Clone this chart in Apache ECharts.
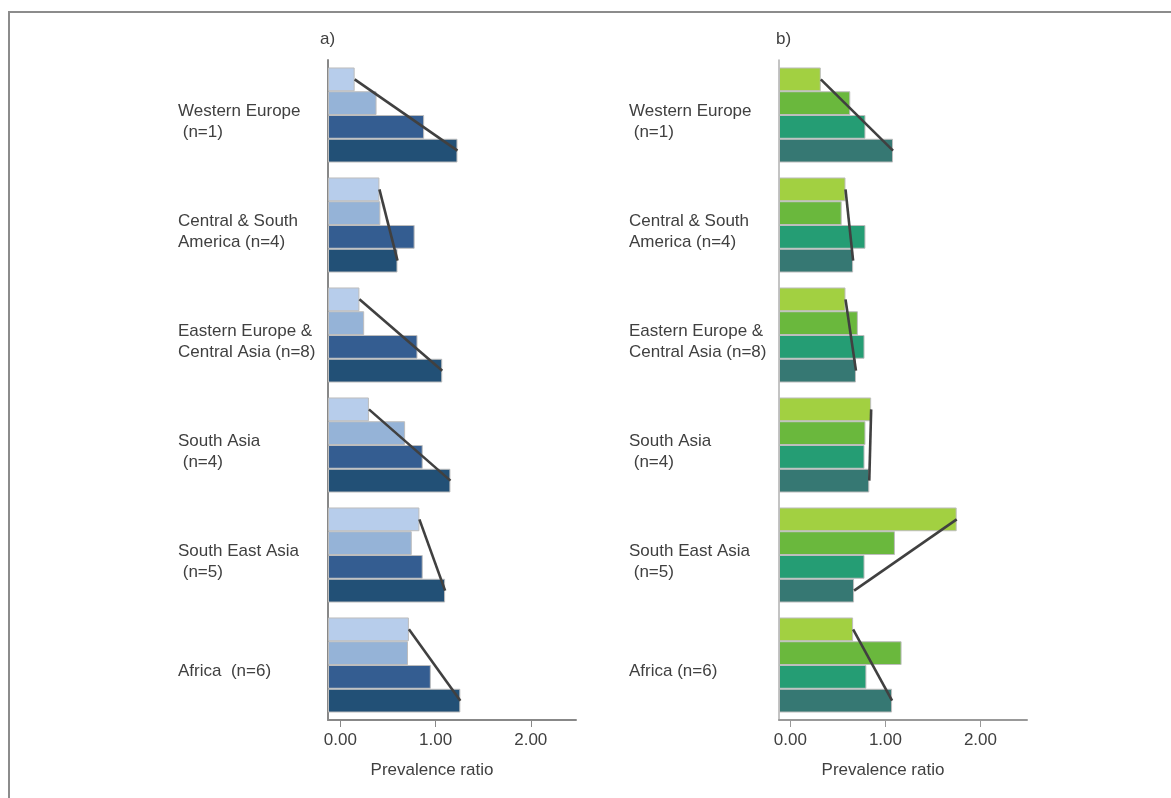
<!DOCTYPE html>
<html>
<head>
<meta charset="utf-8">
<script src="https://cdn.jsdelivr.net/npm/echarts@6/dist/echarts.min.js"></script>
<style>
html,body{margin:0;padding:0;background:#fff;}
#chart{width:1171px;height:798px;}
</style>
</head>
<body>
<div id="chart"></div>
<script>
// ---- data ----
const categoriesA = ['Western Europe\n (n=1)', 'Central & South\nAmerica (n=4)', 'Eastern Europe &\nCentral Asia (n=8)', 'South Asia\n (n=4)', 'South East Asia\n (n=5)', 'Africa  (n=6)'];
const categoriesB = ['Western Europe\n (n=1)', 'Central & South\nAmerica (n=4)', 'Eastern Europe &\nCentral Asia (n=8)', 'South Asia\n (n=4)', 'South East Asia\n (n=5)', 'Africa (n=6)'];

// panel a
const a1 = [0.15, 0.41, 0.20, 0.30, 0.83, 0.72];
const a2 = [0.38, 0.42, 0.25, 0.68, 0.75, 0.71];
const a3 = [0.88, 0.78, 0.81, 0.865, 0.865, 0.95];
const a4 = [1.23, 0.60, 1.07, 1.156, 1.10, 1.26];

// panel b
const b1 = [0.32, 0.58, 0.58, 0.85, 1.75, 0.66];
const b2 = [0.63, 0.54, 0.71, 0.79, 1.10, 1.17];
const b3 = [0.79, 0.79, 0.78, 0.78, 0.78, 0.80];
const b4 = [1.08, 0.66, 0.69, 0.83, 0.67, 1.07];

const tickValues = [0, 1, 2];
const panelLabels = ['a)', 'b)'];
const axisTitle = 'Prevalence ratio';

// ---- styles ----
const coloursA = ['#b7cdeb', '#95b3d7', '#345d91', '#225076'];
const coloursB = ['#a2d041', '#6ab83d', '#259d74', '#367873'];
const CAT_GAP = 0.136;
const FONT = '"Liberation Sans", Arial, sans-serif';
const TXT = '#404040';
const FS = 17;

function barSeries(values, colour, gi) {
  return {
    type: 'bar', xAxisIndex: gi, yAxisIndex: gi, data: values,
    barGap: '0%', barCategoryGap: (CAT_GAP * 100) + '%',
    itemStyle: { color: colour, borderColor: '#bdbdbd', borderWidth: 1 },
    silent: true, animation: false
  };
}

function trendSeries(first, last, gi) {
  return {
    type: 'custom', xAxisIndex: gi, yAxisIndex: gi, z: 10, silent: true, animation: false,
    data: first.map((v, i) => [v, last[i], i]),
    renderItem: function (params, api) {
      const cat = api.value(2);
      const p1 = api.coord([api.value(0), cat]);
      const p4 = api.coord([api.value(1), cat]);
      const band = api.size([0, 1])[1];
      const total = band * (1 - CAT_GAP);
      const w = total / 4;
      return {
        type: 'line',
        shape: { x1: p1[0], y1: p1[1] - total / 2 + w * 0.5, x2: p4[0], y2: p4[1] - total / 2 + w * 3.5 },
        style: { stroke: '#404040', lineWidth: 2.6 }
      };
    }
  };
}

function xAxis(gi, min, max, lineColour) {
  return {
    type: 'value', gridIndex: gi, min: min, max: max, startValue: min,
    splitLine: { show: false },
    axisLine: { show: true, onZero: false, lineStyle: { color: lineColour, width: 2 } },
    axisTick: { show: true, customValues: tickValues, length: 7, lineStyle: { color: lineColour, width: 1 } },
    axisLabel: { customValues: tickValues, formatter: v => Number(v).toFixed(2), color: TXT, fontSize: FS, fontFamily: FONT, margin: 12 }
  };
}

function yAxis(gi, cats, lineColour, lw) {
  return {
    type: 'category', gridIndex: gi, data: cats, inverse: true,
    axisLine: { show: true, onZero: false, lineStyle: { color: lineColour, width: lw } },
    axisTick: { show: false },
    axisLabel: {
      align: 'left', margin: 150, color: TXT, fontSize: FS, fontFamily: FONT, lineHeight: 21,
      formatter: v => '{s| }\n' + v,
      rich: { s: { fontSize: 1, lineHeight: 13 } }
    }
  };
}

const chart = echarts.init(document.getElementById('chart'), null, { renderer: 'canvas' });
chart.setOption({
  backgroundColor: '#ffffff',
  animation: false,
  title: [
    { text: panelLabels[0], left: 320, top: 31, padding: 0, textStyle: { color: TXT, fontSize: FS, fontWeight: 'normal', fontFamily: FONT } },
    { text: panelLabels[1], left: 776, top: 31, padding: 0, textStyle: { color: TXT, fontSize: FS, fontWeight: 'normal', fontFamily: FONT } },
    { text: axisTitle, left: 432, top: 762, textAlign: 'center', padding: 0, textStyle: { color: TXT, fontSize: FS, fontWeight: 'normal', fontFamily: FONT } },
    { text: axisTitle, left: 883, top: 762, textAlign: 'center', padding: 0, textStyle: { color: TXT, fontSize: FS, fontWeight: 'normal', fontFamily: FONT } }
  ],
  graphic: [
    { type: 'rect', shape: { x: 9, y: 12, width: 1180, height: 820 }, style: { fill: 'none', stroke: '#8c8c8c', lineWidth: 2 }, silent: true }
  ],
  grid: [
    { left: 328, top: 60, width: 248, height: 660, containLabel: false },
    { left: 779, top: 60, width: 248, height: 660, containLabel: false }
  ],
  xAxis: [ xAxis(0, -0.13, 2.475, '#888888'), xAxis(1, -0.12, 2.49, '#999999') ],
  yAxis: [ yAxis(0, categoriesA, '#888888', 2), yAxis(1, categoriesB, '#b0b0b0', 1.5) ],
  series: [
    barSeries(a1, coloursA[0], 0), barSeries(a2, coloursA[1], 0), barSeries(a3, coloursA[2], 0), barSeries(a4, coloursA[3], 0),
    trendSeries(a1, a4, 0),
    barSeries(b1, coloursB[0], 1), barSeries(b2, coloursB[1], 1), barSeries(b3, coloursB[2], 1), barSeries(b4, coloursB[3], 1),
    trendSeries(b1, b4, 1)
  ]
});
</script>
</body>
</html>
